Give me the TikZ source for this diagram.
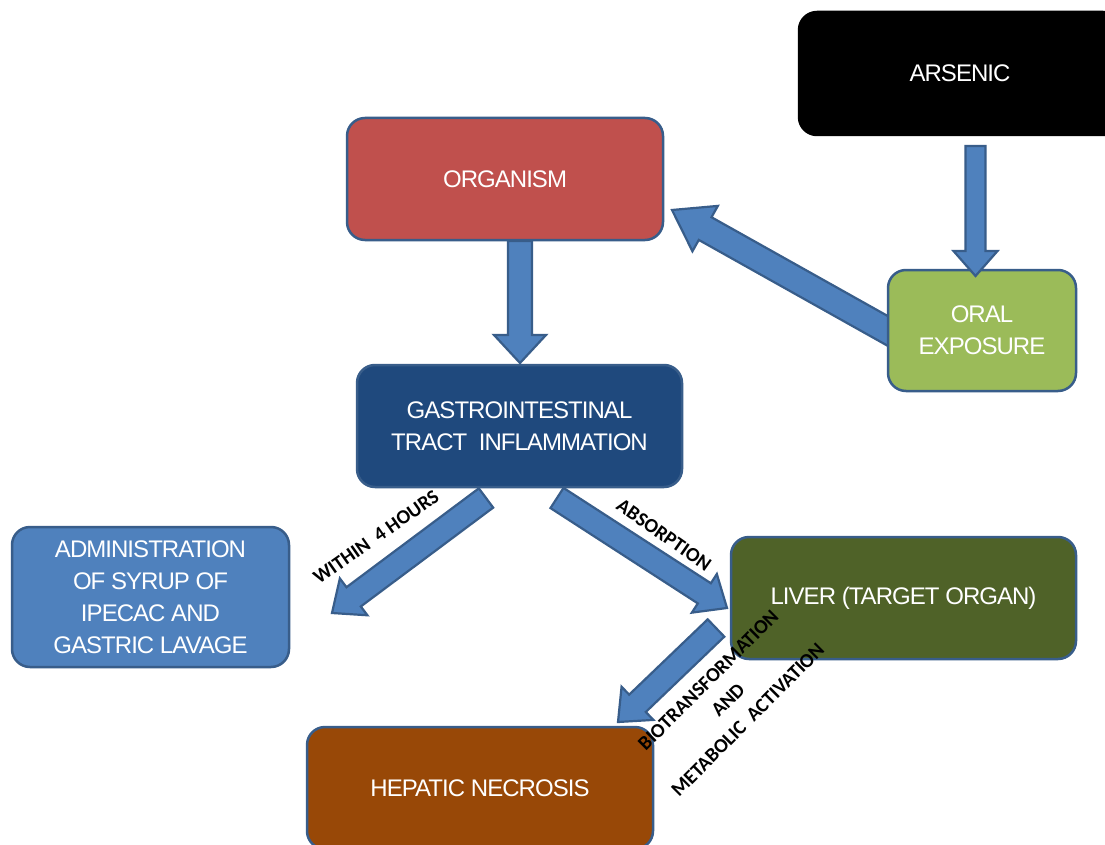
\documentclass[tikz,border=0pt]{standalone}
\usepackage{fontspec}
\setmainfont{Liberation Sans}
\newfontfamily\boxfont[LetterSpace=-4]{Liberation Sans}
\newfontfamily\lblfont{Carlito}
\usetikzlibrary{calc}
\definecolor{bordc}{HTML}{385D8A}
\definecolor{redc}{HTML}{C0504D}
\definecolor{navyc}{HTML}{1F497D}
\definecolor{greenc}{HTML}{9BBB59}
\definecolor{olivec}{HTML}{4F6228}
\definecolor{brownc}{HTML}{984807}
\definecolor{bluec}{HTML}{4F81BD}
\tikzset{
  box/.style={draw=bordc, line width=2.5pt, rounded corners=18pt, rectangle,
    text=white, align=center, inner sep=0pt,
    font=\boxfont\fontsize{24}{32}\selectfont},
  barrow/.style={draw=bordc, fill=bluec, line width=2.2pt, line join=miter},
  lbl/.style={font=\lblfont\bfseries\fontsize{20}{28}\selectfont, align=center, inner sep=0pt}
}
\newcommand\blockarrow[5]{%
  \coordinate (hb) at ($(#2)!#5!(#1)$);
  \draw[barrow] ($(#1)!#3!90:(#2)$) -- ($(hb)!#3!-90:(#1)$) -- ($(hb)!#4!-90:(#1)$)
    -- (#2) -- ($(hb)!#4!90:(#1)$) -- ($(hb)!#3!90:(#1)$) -- ($(#1)!#3!-90:(#2)$) -- cycle;
}
\begin{document}
\begin{tikzpicture}[x=1pt,y=-1pt]
\useasboundingbox[fill=white] (0,0) rectangle (1105,845);
% arrow under boxes
\coordinate (oS) at (895,335);
\coordinate (oT) at (672,210);
\blockarrow{oS}{oT}{13pt}{26pt}{38pt}
% boxes
\node[box, fill=black, draw=black, minimum width=322pt, minimum height=123pt] (ars) at (960,73.5) {ARSENIC};
\node[box, fill=redc, minimum width=316pt, minimum height=122pt] (org) at (505,179) {ORGANISM};
\node[box, fill=greenc, minimum width=188pt, minimum height=121pt] (oral) at (982,330.5) {ORAL\\EXPOSURE};
\node[box, fill=navyc, minimum width=325pt, minimum height=122pt] (gi) at (519.5,426) {GASTROINTESTINAL\\TRACT\ \ INFLAMMATION};
\node[box, fill=bluec, minimum width=277pt, minimum height=140pt] (adm) at (150.5,597) {ADMINISTRATION\\OF SYRUP OF\\IPECAC AND\\GASTRIC LAVAGE};
\node[box, fill=olivec, minimum width=345pt, minimum height=122pt] (liv) at (903.5,598) {LIVER (TARGET ORGAN)};
\node[box, fill=brownc, minimum width=346pt, minimum height=122pt] (hep) at (480,788) {HEPATIC NECROSIS};
% arrows
\coordinate (aS) at (975.5,146);
\coordinate (aT) at (975.5,276);
\blockarrow{aS}{aT}{10pt}{22pt}{25pt}
\coordinate (gS) at (520,241);
\coordinate (gT) at (520,363);
\blockarrow{gS}{gT}{12pt}{26pt}{28pt}
\coordinate (wS) at (486,498);
\coordinate (wT) at (332,613);
\blockarrow{wS}{wT}{12pt}{23pt}{27pt}
\coordinate (bS) at (557,498);
\coordinate (bT) at (727,608);
\blockarrow{bS}{bT}{12pt}{23pt}{27pt}
\coordinate (lS) at (716,628);
\coordinate (lT) at (618,722);
\blockarrow{lS}{lT}{12pt}{23pt}{27pt}
% labels
\node[lbl, rotate=35] (l1) at (376,537) {WITHIN\ \ 4 HOURS};
\node[lbl, rotate=-35] (l2) at (664,535) {ABSORPTION};
\node[lbl, rotate=45] (l3) at (728,700) {BIOTRANSFORMATION\\AND\\METABOLIC\ \ ACTIVATION};
\end{tikzpicture}
\end{document}
